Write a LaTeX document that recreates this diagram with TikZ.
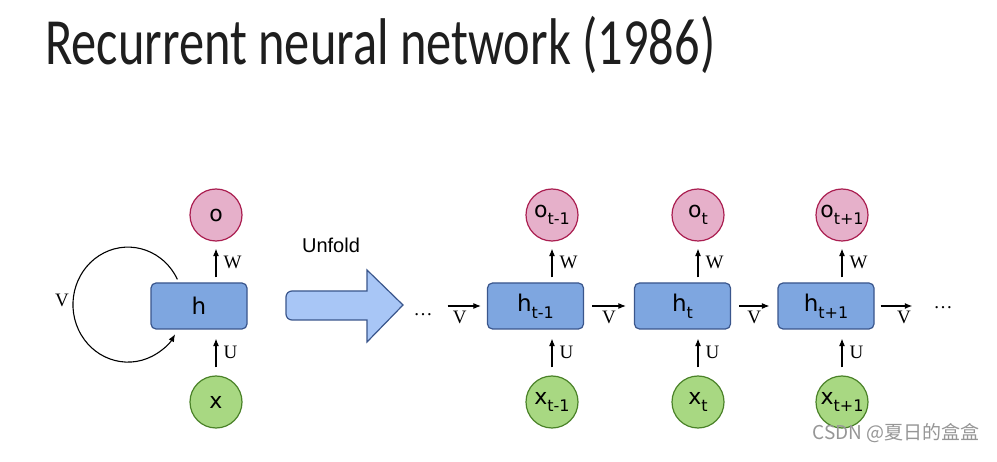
\documentclass[tikz,border=0pt]{standalone}
\usepackage{fontspec}
\usepackage{graphicx}
\usetikzlibrary{arrows.meta}
\definecolor{cellBlue}{RGB}{126,166,224}
\definecolor{cellEdge}{RGB}{58,86,140}
\definecolor{outPink}{RGB}{230,176,202}
\definecolor{outEdge}{RGB}{170,30,80}
\definecolor{inGreen}{RGB}{168,216,130}
\definecolor{inEdge}{RGB}{74,130,40}
\definecolor{unfoldBlue}{RGB}{168,198,246}
\definecolor{markGray}{RGB}{150,150,150}
\definecolor{titleBlack}{RGB}{30,30,30}
\newfontfamily\cellfont{DejaVu Sans}
\newfontfamily\weightfont{Liberation Serif}
\newfontfamily\unfoldfont{Liberation Sans}
\newfontfamily\titlefont{Carlito}
\newfontfamily\cjkfont{Noto Sans CJK SC}
\newcommand{\lowsub}[1]{\raisebox{-7pt}{\fontsize{16}{16}\selectfont #1}}

\begin{document}
\begin{tikzpicture}[x=1pt, y=1pt,
      cell/.style={draw=cellEdge, line width=1.2pt, fill=cellBlue, rounded corners=5pt,
                   minimum width=96pt, minimum height=46pt, inner sep=0pt,
                   font=\cellfont\fontsize{23}{23}\selectfont},
      outnode/.style={circle, draw=outEdge, line width=1.2pt, fill=outPink,
                      minimum size=52pt, inner sep=0pt, font=\cellfont\fontsize{22}{22}\selectfont},
      innode/.style={circle, draw=inEdge, line width=1.2pt, fill=inGreen,
                     minimum size=52pt, inner sep=0pt, font=\cellfont\fontsize{22}{22}\selectfont},
      link/.style={-{Latex[length=7.5pt,width=6pt]}, line width=1.1pt},
      wlink/.style={link, shorten <=5pt, shorten >=7pt},
      ulink/.style={link, shorten <=8pt, shorten >=9pt},
      vlink/.style={link, shorten <=8pt, shorten >=8pt},
      lab/.style={font=\weightfont\fontsize{19}{19}\selectfont, inner sep=7pt},
      dots/.style={font=\weightfont\fontsize{19}{19}\selectfont, inner sep=0pt}
    ]
    \useasboundingbox[fill=white] (0,0) rectangle (997,461);

    \node[anchor=base west, inner sep=0pt, text=titleBlack] (title) at (45,396)
      {\resizebox{670pt}{\height}{\titlefont\fontsize{66}{72}\selectfont Recurrent neural network (1986)}};

    % folded network
    \node[cell]    (h) at (199,155) {h};
    \node[outnode] (o) at (216,246) {o};
    \node[innode]  (x) at (216,59)  {x};

    \draw[wlink] (h.north -| o) -- (o) node[midway, lab, right] {W};
    \draw[ulink] (x) -- (h.south -| x) node[midway, lab, right] {U};
    \draw[link] ([xshift=27pt, yshift=3pt]h.north west)
      arc[start angle=26, end angle=329, x radius=55pt, y radius=57.5pt];
    \node[lab] (vloop) at (62,161) {V};

    % unfold arrow
    \draw[draw=cellEdge, line width=1.2pt, fill=unfoldBlue]
      (330,170) [rounded corners=6pt] -- (286,170) -- (286,141) -- (330,141)
      [sharp corners] -- (367,141) -- (367,119) -- (403,156) -- (367,191) -- (367,170) -- cycle;
    \node[font=\unfoldfont\fontsize{20}{20}\selectfont] (unfold) at (331,216) {Unfold};

    % unfolded network
    \node[dots] (dl) at (423,146) {\ldots};
    \node[cell] (hA) at (535.5,155) {h\lowsub{t-1}};
    \node[cell] (hB) at (682.5,155) {h\lowsub{t}};
    \node[cell] (hC) at (826,155)   {h\lowsub{t+1}};
    \node[dots] (dr) at (943,153) {\ldots};

    \node[outnode] (oA) at (552,246) {o\lowsub{t-1}};
    \node[outnode] (oB) at (698,246) {o\lowsub{t}};
    \node[outnode] (oC) at (842,246) {o\lowsub{t+1}};
    \node[innode]  (xA) at (552,59)  {x\lowsub{t-1}};
    \node[innode]  (xB) at (698,59)  {x\lowsub{t}};
    \node[innode]  (xC) at (842,59)  {x\lowsub{t+1}};

    \draw[wlink] (hA.north -| oA) -- (oA) node[midway, lab, right] {W};
    \draw[wlink] (hB.north -| oB) -- (oB) node[midway, lab, right] {W};
    \draw[wlink] (hC.north -| oC) -- (oC) node[midway, lab, right] {W};
    \draw[ulink] (xA) -- (hA.south -| xA) node[midway, lab, right] {U};
    \draw[ulink] (xB) -- (hB.south -| xB) node[midway, lab, right] {U};
    \draw[ulink] (xC) -- (hC.south -| xC) node[midway, lab, right] {U};

    \draw[link, shorten <=15pt, shorten >=6pt] (dl.east |- hA.west) -- (hA.west)
      node[midway, lab, below, inner sep=5pt] {V};
    \draw[vlink] (hA) -- (hB) node[midway, lab, below, inner sep=5pt] {V};
    \draw[vlink] (hB) -- (hC) node[midway, lab, below, inner sep=5pt] {V};
    \draw[link, shorten <=6pt, shorten >=21pt] (hC.east) -- (dr.west |- hC.east)
      node[midway, lab, below, inner sep=5pt] {V};

    \node[font=\cjkfont\fontsize{19}{19}\selectfont, text=markGray] (mark) at (896,28)
      {CSDN @夏日的盒盒};
  \end{tikzpicture}
\end{document}
